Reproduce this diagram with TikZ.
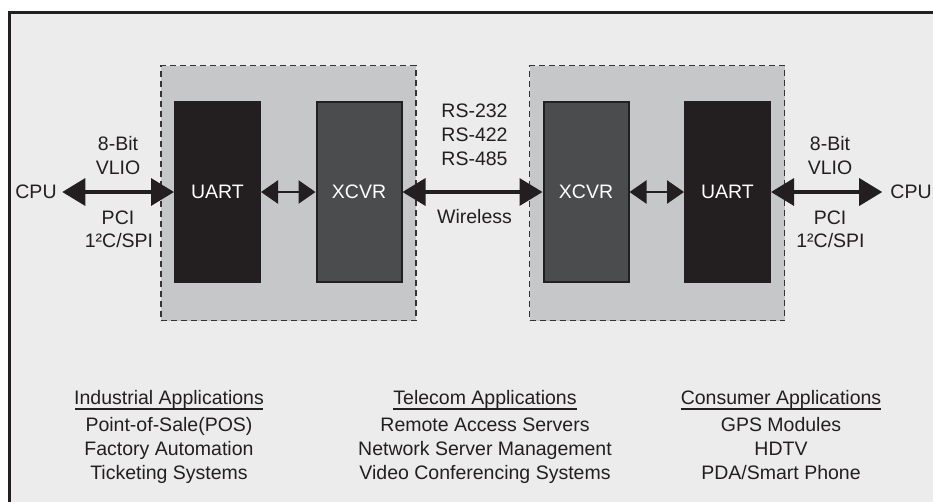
\documentclass[tikz,border=0pt]{standalone}
\usepackage{fontspec}
\setmainfont{Liberation Sans}
\usetikzlibrary{arrows.meta}
\definecolor{ink}{HTML}{231F20}
\definecolor{bgfill}{HTML}{ECECEC}
\definecolor{boxfill}{HTML}{C6C7C9}
\definecolor{xcvrfill}{HTML}{4B4C4E}
\definecolor{dashcol}{HTML}{333333}
\newcommand{\fs}{\fontsize{19.5}{24}\selectfont}
\tikzset{
 dbox/.style={draw=dashcol, fill=boxfill, line width=1.9pt, dash pattern=on 6pt off 4pt, minimum width=255pt, minimum height=255pt, inner sep=0pt},
 uartbox/.style={fill=ink, draw=ink, line width=1pt, minimum width=86pt, minimum height=181pt, text=white, font=\fs, inner sep=0pt},
 xcvrbox/.style={fill=xcvrfill, draw=ink, line width=2pt, minimum width=85pt, minimum height=180pt, text=white, font=\fs, inner sep=0pt},
 lbl/.style={text=ink, font=\fs, inner sep=0pt, anchor=base},
 bigarrow/.style={line width=3.5pt, draw=ink, {Triangle[length=23pt,width=27pt]}-{Triangle[length=23pt,width=27pt]}},
 smallarrow/.style={line width=2.5pt, draw=ink, {Triangle[length=17pt,width=23pt]}-{Triangle[length=17pt,width=23pt]}},
 ulline/.style={draw=ink, line width=2pt}
}
\begin{document}
\begin{tikzpicture}[x=1pt,y=-1pt]
\useasboundingbox (0,0) rectangle (933,501);
\fill[white] (0,0) rectangle (933,501);
\begin{scope}
\clip (0,0) rectangle (933,501);
\fill[bgfill] (9.5,12) rectangle (960,520);
\draw[ink, line width=3pt] (9.5,520) -- (9.5,12) -- (960,12);

% dashed module boxes
\node[dbox] (boxL) at (288.5,193) {};
\node[dbox] (boxR) at (657,193) {};

% blocks
\node[uartbox] (uartL) at (217.5,192) {UART};
\node[xcvrbox] (xcvrL) at (359,192) {XCVR};
\node[xcvrbox] (xcvrR) at (586,192) {XCVR};
\node[uartbox] (uartR) at (727.5,192) {UART};

\node[lbl, anchor=center, inner xsep=5.5pt] (cpuL) at (36,192) {CPU};
\node[lbl, anchor=center, inner xsep=8pt] (cpuR) at (911,192) {CPU};

% connectors
\draw[bigarrow] (cpuL.east) -- (uartL.west);
\draw[smallarrow] (uartL.east) -- (xcvrL.west);
\draw[bigarrow] (xcvrL.east) -- (xcvrR.west);
\draw[smallarrow] (xcvrR.east) -- (uartR.west);
\draw[bigarrow] (uartR.east) -- (cpuR.west);

% bus labels left
\node[lbl] (bitL) at (118,150) {8-Bit};
\node[lbl] (vlioL) at (118,174) {VLIO};
\node[lbl] (pciL) at (118,224) {PCI};
\node[lbl] (spiL) at (119,247) {1²C/SPI};
% bus labels right
\node[lbl] (bitR) at (830,150) {8-Bit};
\node[lbl] (vlioR) at (830,174) {VLIO};
\node[lbl] (pciR) at (830,224) {PCI};
\node[lbl] (spiR) at (830.5,247) {1²C/SPI};
% link labels
\node[lbl] (rsA) at (474.5,117) {RS-232};
\node[lbl] (rsB) at (474.5,141) {RS-422};
\node[lbl] (rsC) at (474.5,165) {RS-485};
\node[lbl] (wless) at (474.5,223) {Wireless};

% applications
\node[lbl] (indH) at (169,404) {Industrial Applications};
\node[lbl] (indA) at (169,431) {Point-of-Sale(POS)};
\node[lbl] (indB) at (169,455) {Factory Automation};
\node[lbl] (indC) at (169,479) {Ticketing Systems};

\node[lbl] (telH) at (485,404) {Telecom Applications};
\node[lbl] (telA) at (485,431) {Remote Access Servers};
\node[lbl] (telB) at (485,455) {Network Server Management};
\node[lbl] (telC) at (485,479) {Video Conferencing Systems};

\node[lbl] (conH) at (781,404) {Consumer Applications};
\node[lbl] (conA) at (781,431) {GPS Modules};
\node[lbl] (conB) at (781,455) {HDTV};
\node[lbl] (conC) at (781,479) {PDA/Smart Phone};

\draw[ulline] ([xshift=1.5pt,yshift=-1pt]indH.south west) -- ([xshift=-1.5pt,yshift=-1pt]indH.south east);
\draw[ulline] ([yshift=-1pt]telH.south west) -- ([yshift=-1pt]telH.south east);
\draw[ulline] ([yshift=-1pt]conH.south west) -- ([yshift=-1pt]conH.south east);
\end{scope}
\end{tikzpicture}
\end{document}
